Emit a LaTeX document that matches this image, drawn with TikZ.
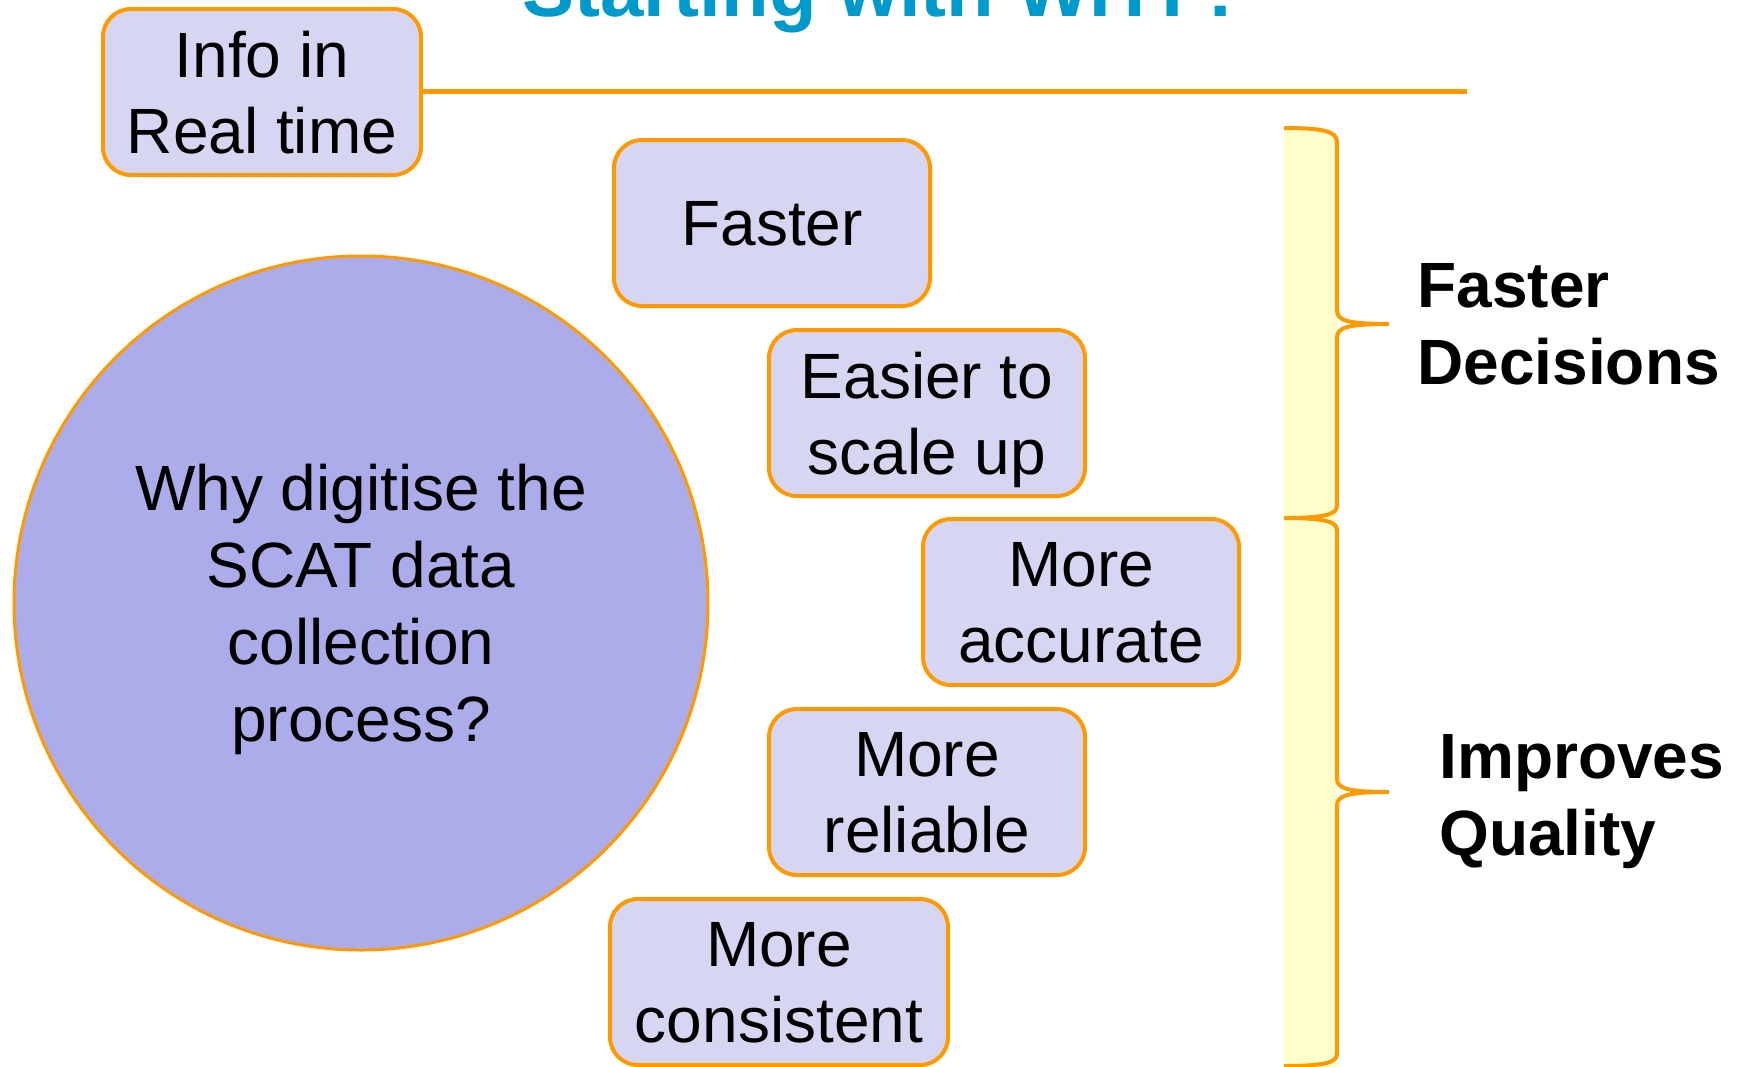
\documentclass[tikz,border=0pt]{standalone}
\usepackage{fontspec}
\setmainfont{Liberation Sans}
\usetikzlibrary{positioning}
\definecolor{boxorange}{RGB}{255,153,0}
\definecolor{boxlilac}{RGB}{214,214,242}
\definecolor{circlilac}{RGB}{172,172,234}
\definecolor{bracefill}{RGB}{255,255,204}
\definecolor{titleblue}{RGB}{0,153,204}
\begin{document}
\begin{tikzpicture}[x=0.5pt, y=-0.5pt,
    reason/.style={draw=boxorange, line width=2pt, fill=boxlilac, rounded corners=14pt,
      minimum width=158pt, minimum height=83pt, align=center, inner sep=0pt,
      text depth=0pt, font=\fontsize{32}{38}\selectfont},
    question/.style={circle, draw=boxorange, line width=1.5pt, fill=circlilac,
      minimum size=347pt, align=center, inner sep=0pt, text depth=0pt,
      font=\fontsize{32}{38.5}\selectfont},
    bracelbl/.style={align=left, inner sep=0pt, font=\fontsize{32}{38.5}\selectfont\bfseries},
    braceline/.style={draw=boxorange, line width=2pt}]
  \useasboundingbox (0,0) rectangle (1740,1066);
  \clip (0,0) rectangle (1740,1066);
  % title, cut off at the top
  \node (title) [anchor=base, text=titleblue, font=\fontsize{39}{44}\selectfont\bfseries] at (884,16) {Starting with WHY?};
  % the question
  \node (why) [question] at (361,603) {Why digitise the\\SCAT data\\collection\\process?};
  % reasons
  \node (info) [reason, minimum width=159pt] at (262,92) {Info in\\Real time};
  \node (faster) [reason] at (772,223) {Faster};
  \node (easier) [reason] at (927,413) {Easier to\\scale up};
  \node (accurate) [reason] at (1081,602) {More\\accurate};
  \node (reliable) [reason] at (927,792) {More\\reliable};
  \node (consistent) [reason, minimum width=169pt] at (779,982) {More\\consistent};
  \coordinate (lineend) at (1467,91);
  \draw [braceline, line width=2.5pt] (info.east |- lineend) -- (lineend);
  % braces
  \coordinate (fastTip) at (1389,324);
  \coordinate (qualTip) at (1389,792);
  \fill [bracefill] (1284,128) .. controls (1322,128) and (1337,131) .. (1337,142) -- (1337,1070) -- (1284,1070) -- cycle;
  \draw [braceline] (1284,128) .. controls (1322,128) and (1337,131) .. (1337,142) -- (1337,310)
    .. controls (1337,320) and (1345,324) .. (fastTip) .. controls (1345,324) and (1337,328) .. (1337,338)
    -- (1337,506) .. controls (1337,515) and (1322,518) .. (1284,518);
  \draw [braceline] (1284,518) .. controls (1322,518) and (1337,521) .. (1337,530) -- (1337,778)
    .. controls (1337,788) and (1345,792) .. (qualTip) .. controls (1345,792) and (1337,796) .. (1337,806)
    -- (1337,1054) .. controls (1337,1063) and (1322,1066) .. (1284,1066);
  \node (fastlbl) [bracelbl, right=14pt of fastTip] {Faster\\Decisions};
  \node (quallbl) [bracelbl, right=25pt of qualTip, yshift=-5pt] {Improves\\Quality};
\end{tikzpicture}
\end{document}
